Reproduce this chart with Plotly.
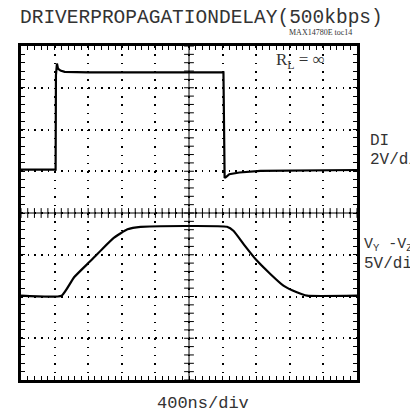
import numpy as np
import plotly.graph_objects as go

# time in ns (400 ns/div, 10 div), amplitude in screen divisions (8 div)
di_t = [0, 412, 416, 428, 440, 470, 520, 800, 2410, 2416, 2424, 2440, 2480, 2600, 2850, 4000]
di_y = [5.04, 5.04, 7.30, 7.58, 7.46, 7.41, 7.38, 7.37, 7.37, 5.20, 4.84, 4.86, 4.93, 4.97, 5.01, 5.03]

v_t = [0, 484, 632, 832, 968, 1108, 1268, 1424, 2452, 2532, 2652, 2808, 2968, 3124, 3284, 3404, 4000]
v_y = [2.02, 2.02, 2.46, 2.86, 3.14, 3.41, 3.61, 3.67, 3.67, 3.57, 3.25, 2.86, 2.54, 2.26, 2.10, 2.02, 2.02]

title_text = "DRIVERPROPAGATIONDELAY(500kbps)"
toc_text = "MAX14780E toc14"
rl_text = "R<sub>L</sub> = ∞"
ch1_name, ch1_scale = "DI", "2V/div"
ch2_name, ch2_scale = "V<sub>Y</sub> -V<sub>Z</sub>", "5V/div"
time_scale = "400ns/div"

# page body has an 8px margin; lay out in window pixels and compensate
OFF = 8
W, H = 418 - OFF, 414 - OFF
L, R, T, B = 21 - OFF, 61, 46 - OFF, 34
PW, PH = W - L - R, H - T - B

def fx(px):
    return (px - OFF - L) / PW

def fy(py):
    return (H - B - (py - OFF)) / PH

fig = go.Figure()
fig.add_trace(go.Scatter(x=di_t, y=di_y, mode="lines",
                         line=dict(color="black", width=2.2), hoverinfo="skip"))
fig.add_trace(go.Scatter(x=v_t, y=v_y, mode="lines",
                         line=dict(color="black", width=2.2, shape="spline", smoothing=0.4),
                         hoverinfo="skip"))

# center graticule crosses
xt = np.arange(0, 4001, 80)
yt = np.arange(0, 8.01, 0.2)
fig.add_trace(go.Scatter(x=xt, y=[4] * len(xt), mode="markers",
                         marker=dict(symbol="line-ns", size=7, line=dict(color="black", width=1)),
                         hoverinfo="skip"))
fig.add_trace(go.Scatter(x=[2000] * len(yt), y=yt, mode="markers",
                         marker=dict(symbol="line-ew", size=7, line=dict(color="black", width=1)),
                         hoverinfo="skip"))
fig.add_shape(type="line", x0=0, x1=4000, y0=4, y1=4, line=dict(color="black", width=1), layer="below")
fig.add_shape(type="line", x0=2000, x1=2000, y0=0, y1=8, line=dict(color="black", width=1), layer="below")

fig.update_xaxes(range=[0, 4000], dtick=400, tick0=0, showgrid=True, gridcolor="black",
                 gridwidth=1.5, griddash="1.5px,6.85px", zeroline=False,
                 showline=True, linecolor="black", linewidth=3, mirror="ticks",
                 ticks="inside", ticklen=4, tickcolor="black", tickwidth=1,
                 minor=dict(dtick=80, ticks="inside", ticklen=4, tickcolor="black", showgrid=False),
                 showticklabels=False)
fig.update_yaxes(range=[0, 8], dtick=1, tick0=0, showgrid=True, gridcolor="black",
                 gridwidth=1.5, griddash="1.5px,5.2px", zeroline=False,
                 showline=True, linecolor="black", linewidth=3, mirror="ticks",
                 ticks="inside", ticklen=4, tickcolor="black", tickwidth=1,
                 minor=dict(dtick=0.2, ticks="inside", ticklen=4, tickcolor="black", showgrid=False),
                 showticklabels=False)

mono = "Liberation Mono"
serif = "Liberation Serif"
tc = "#333333"
ann = [
    dict(text=title_text, x=fx(201), y=fy(18.5), xanchor="center", yanchor="middle",
         font=dict(family=mono, size=19.5, color=tc)),
    dict(text=toc_text, x=fx(320), y=fy(33), xanchor="center", yanchor="middle",
         font=dict(family=serif, size=8, color=tc)),
    dict(text=rl_text, x=fx(274), y=fy(61), xanchor="left", yanchor="middle",
         font=dict(family=serif, size=17, color=tc)),
    dict(text=ch1_name, x=fx(368), y=fy(141), xanchor="left", yanchor="middle",
         font=dict(family=mono, size=16, color=tc)),
    dict(text=ch1_scale, x=fx(368), y=fy(160), xanchor="left", yanchor="middle",
         font=dict(family=mono, size=16, color=tc)),
    dict(text=ch2_name, x=fx(362), y=fy(245), xanchor="left", yanchor="middle",
         font=dict(family=mono, size=15, color=tc)),
    dict(text=ch2_scale, x=fx(362), y=fy(264), xanchor="left", yanchor="middle",
         font=dict(family=mono, size=16, color=tc)),
    dict(text=time_scale, x=fx(203), y=fy(403), xanchor="center", yanchor="middle",
         font=dict(family=mono, size=17, color=tc)),
]
for a in ann:
    a.update(xref="paper", yref="paper", showarrow=False)

fig.update_layout(width=W, height=H, margin=dict(l=L, r=R, t=T, b=B, pad=0),
                  paper_bgcolor="white", plot_bgcolor="white", showlegend=False,
                  annotations=ann)

fig.write_html("out.html")
